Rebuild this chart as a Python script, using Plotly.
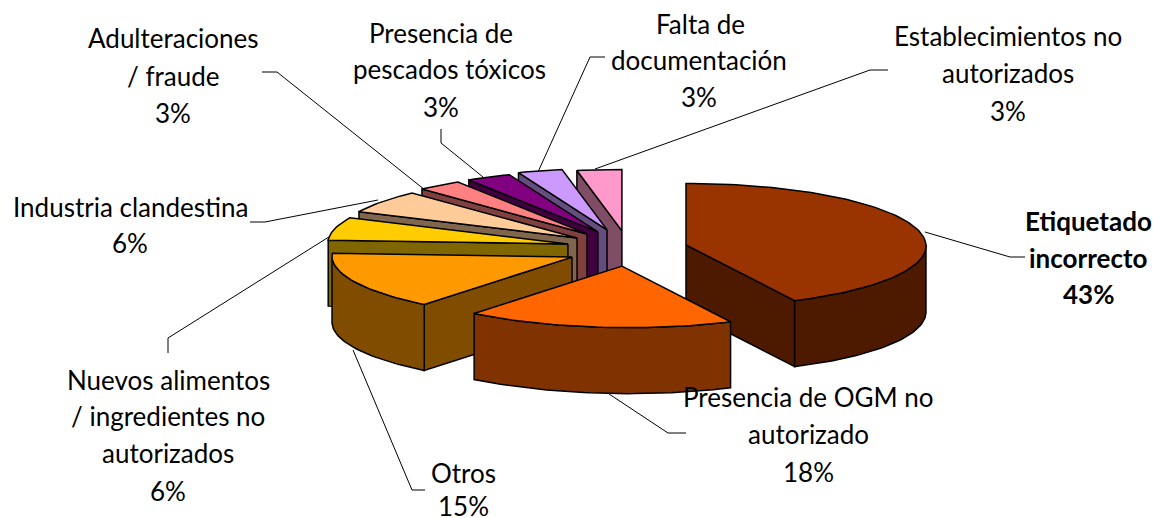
import math
import plotly.graph_objects as go

# ---- data (clockwise from 12 o'clock) ----
categories = ["Etiquetado incorrecto", "Presencia de OGM no autorizado", "Otros",
              "Nuevos alimentos / ingredientes no autorizados", "Industria clandestina",
              "Adulteraciones / fraude", "Presencia de pescados tóxicos",
              "Falta de documentación", "Establecimientos no autorizados"]
values = [43, 18, 15, 6, 6, 3, 3, 3, 3]

# ---- styling ----
top_colors = ["#993300", "#ff6600", "#ff9900", "#ffcc00", "#ffcc99",
              "#ff8080", "#800080", "#cc99ff", "#ff99cc"]
side_colors = ["#4d1a00", "#803300", "#804d00", "#806600", "#80664d",
               "#804040", "#400040", "#664d80", "#804d66"]
# explosion of each slice, as a fraction of the radii
pull_x = [0.225, -0.042, -0.25, -0.267, -0.229, -0.1875, -0.142, -0.104, -0.042]
pull_y = [-0.041, 0.303, 0.156, -0.057, -0.156, -0.221, -0.254, -0.287, -0.27]
draw_order = [8, 7, 6, 5, 4, 3, 0, 2, 1]
CX, CY, RX, RY, DEPTH = 632, 247.5, 240, 61.5, 66

label_lines = [
    [("Etiquetado", 1088, 221), ("incorrecto", 1088, 258), ("43%", 1088, 294)],
    [("Presencia de OGM no", 808, 397), ("autorizado", 808, 434), ("18%", 808, 472)],
    [("Otros", 463, 473), ("15%", 463, 506)],
    [("Nuevos alimentos", 168, 380), ("/ ingredientes no", 168, 416), ("autorizados", 168, 453), ("6%", 168, 491)],
    [("Industria clandestina", 130, 207), ("6%", 130, 243)],
    [("Adulteraciones", 173, 38), ("/ fraude", 173, 76), ("3%", 173, 113)],
    [("Presencia de", 441, 33), ("pescados tóxicos", 449, 69), ("3%", 441, 107)],
    [("Falta de", 700, 24), ("documentación", 699, 60), ("3%", 699, 97)],
    [("Establecimientos no", 1008, 36), ("autorizados", 1008, 73), ("3%", 1008, 111)],
]
leaders = [
    ([925, 1010, 1025], [232, 257, 257]),
    ([600, 668, 686], [388, 433, 433]),
    ([353, 412, 425], [350, 490, 490]),
    ([332, 168, 168], [235, 338, 353]),
    ([378, 265, 250], [200, 222, 222]),
    ([425, 277, 262], [190, 72, 72]),
    ([483, 441, 441], [177, 143, 129]),
    ([538, 590, 605], [172, 57, 57]),
    ([595, 870, 888], [169, 70, 70]),
]

fig = go.Figure()


def rim(i, deg):
    """Project an angle on the rim of slice i to the chart plane."""
    rad = math.radians(deg)
    warped = math.radians(deg - 1.8 * (1 - math.cos(rad)) / 2)
    ax = CX + pull_x[i] * RX
    ay = CY + pull_y[i] * RY
    return ax + RX * math.sin(warped), ay - RY * math.cos(rad)


def arc(i, a, b, step=1.5):
    n = max(2, int(abs(b - a) / step) + 1)
    return [rim(i, a + (b - a) * k / (n - 1)) for k in range(n)]


def poly(points, fill):
    xs = [p[0] for p in points] + [points[0][0]]
    ys = [p[1] for p in points] + [points[0][1]]
    fig.add_trace(go.Scatter(x=xs, y=ys, mode="lines", fill="toself", fillcolor=fill,
                             line=dict(color="#000000", width=1.5),
                             hoverinfo="skip", showlegend=False))


total = sum(values)
starts = [sum(values[:i]) / total * 360 for i in range(len(values))]
ends = [sum(values[:i + 1]) / total * 360 for i in range(len(values))]

for x, y in leaders:
    fig.add_trace(go.Scatter(x=x, y=y, mode="lines", line=dict(color="#000000", width=1),
                             hoverinfo="skip", showlegend=False))

for i in draw_order:
    t0, t1 = starts[i], ends[i]
    apex = (CX + pull_x[i] * RX, CY + pull_y[i] * RY)
    down = lambda p: (p[0], p[1] + DEPTH)
    if math.sin(math.radians(t0)) < -1e-6:
        p = rim(i, t0)
        poly([apex, p, down(p), down(apex)], side_colors[i])
    if math.sin(math.radians(t1)) > 1e-6:
        p = rim(i, t1)
        poly([apex, p, down(p), down(apex)], side_colors[i])
    a, b = max(t0, 90), min(t1, 270)
    if a < b:
        pts = arc(i, a, b)
        poly(pts + [down(p) for p in reversed(pts)], side_colors[i])
    poly([apex] + arc(i, t0, t1), top_colors[i])

for i, lines in enumerate(label_lines):
    for text, x, y in lines:
        fig.add_annotation(x=x, y=y, text=f"<b>{text}</b>" if i == 0 else text,
                           showarrow=False, xanchor="center", yanchor="middle",
                           font=dict(family="Lato", size=26, color="#000000"))

fig.update_layout(
    width=1153, height=518, margin=dict(l=0, r=0, t=0, b=0),
    paper_bgcolor="#ffffff", plot_bgcolor="#ffffff", showlegend=False,
    xaxis=dict(range=[0, 1153], visible=False, fixedrange=True),
    yaxis=dict(range=[518, 0], visible=False, fixedrange=True),
)
fig.write_html("out.html", config=dict(displayModeBar=False),
               post_script="document.body.style.margin='0';document.body.style.overflow='hidden';")
